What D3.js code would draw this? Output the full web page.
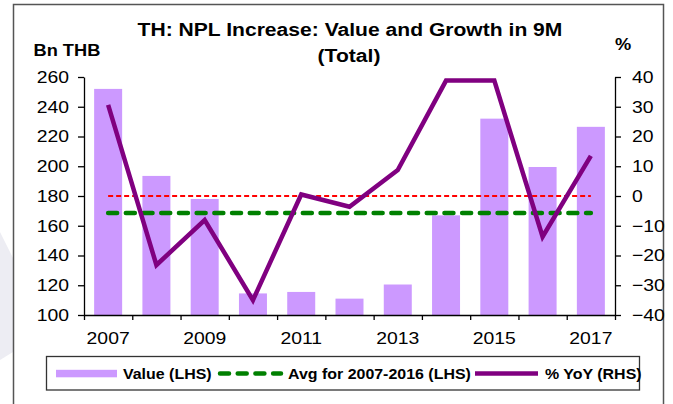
<!DOCTYPE html>
<html>
<head>
<meta charset="utf-8">
<script src="https://cdn.jsdelivr.net/npm/d3@7/dist/d3.min.js"></script>
<style>
  body { margin: 0; background: #fff; }
  text { font-family: "Liberation Sans", Arial, sans-serif; fill: #000; }
</style>
</head>
<body>
<div id="chart"></div>
<script>
////////////////////////////////////////////////////////////////////////
// Data

const years = [2007, 2008, 2009, 2010, 2011, 2012, 2013, 2014, 2015, 2016, 2017];
// NPL increase in 9M, Bn THB (left axis)
const nplValue = [252, 193.5, 178, 114.5, 115.5, 111, 120.5, 167, 232, 199.5, 226.5];
// % YoY (right axis)
const yoyGrowth = [30.6, -23.2, -8.1, -35, 0.5, -3.6, 8.7, 38.8, 38.8, -13.7, 13.5];
// average for 2007-2016 (left axis)
const avgValue = 168.6;
const zeroLine = 0;

const leftTicks = [100, 120, 140, 160, 180, 200, 220, 240, 260];
const rightTicks = [-40, -30, -20, -10, 0, 10, 20, 30, 40];
const yearLabels = [2007, 2009, 2011, 2013, 2015, 2017];

////////////////////////////////////////////////////////////////////////
// Layout

const width = 673, height = 404;
const plotLeft = 84, plotRight = 615, plotTop = 77, plotBottom = 315;
// text in the reference is a bit wider than it is tall
const SX = 1.14;

const svg = d3.select("#chart")
  .append("svg")
  .attr("width", width)
  .attr("height", height);

// stretch text horizontally around its anchor
function stretch(sel) {
  sel.each(function () {
    let t = d3.select(this);
    let x0 = +t.attr("x") || 0;
    t.attr("transform", `translate(${x0},0) scale(${SX},1) translate(${-x0},0)`);
  });
}

// faint background shape at the left edge
svg.append("path")
  .attr("d", "M0,232 L13,258 L13,352 L0,360 Z")
  .attr("fill", "#ededf3");

// frame
svg.append("rect")
  .attr("x", 13.5).attr("y", 4.5)
  .attr("width", 650).attr("height", 430)
  .attr("fill", "none")
  .attr("stroke", "#555")
  .attr("stroke-width", 1.5);

// scales
let xScale = d3.scaleBand()
  .domain(years)
  .range([plotLeft, plotRight])
  .paddingInner(0.42)
  .paddingOuter(0.21);
let idxScale = d3.scaleLinear().domain([0, years.length]).range([plotLeft, plotRight]);
let yLeft = d3.scaleLinear().domain([100, 260]).range([plotBottom, plotTop]);
let yRight = d3.scaleLinear().domain([-40, 40]).range([plotBottom, plotTop]);
let cx = d => xScale(d) + xScale.bandwidth() / 2;

// bars
svg.append("g")
  .attr("class", "bars")
  .selectAll("rect")
  .data(years)
  .enter()
  .append("rect")
  .attr("x", d => xScale(d))
  .attr("y", (d, i) => yLeft(nplValue[i]))
  .attr("width", xScale.bandwidth())
  .attr("height", (d, i) => plotBottom - yLeft(nplValue[i]))
  .attr("fill", "#cc99ff");

// red dashed zero line (RHS)
svg.append("line")
  .attr("x1", cx(years[0])).attr("x2", cx(years[years.length - 1]))
  .attr("y1", yRight(zeroLine)).attr("y2", yRight(zeroLine))
  .attr("stroke", "#ff0000")
  .attr("stroke-width", 2)
  .attr("stroke-dasharray", "5,3");

// green dashed average (LHS)
svg.append("line")
  .attr("x1", cx(years[0])).attr("x2", cx(years[years.length - 1]))
  .attr("y1", yLeft(avgValue)).attr("y2", yLeft(avgValue))
  .attr("stroke", "#008000")
  .attr("stroke-width", 4.5)
  .attr("stroke-linecap", "round")
  .attr("stroke-dasharray", "9,8.7");

// purple yoy line (RHS)
let line = d3.line()
  .x((d, i) => cx(years[i]))
  .y(d => yRight(d));
svg.append("path")
  .datum(yoyGrowth)
  .attr("d", line)
  .attr("fill", "none")
  .attr("stroke", "#800080")
  .attr("stroke-width", 4.5);

// axes
let axisLeft = d3.axisLeft(yLeft)
  .tickValues(leftTicks)
  .tickSizeInner(6).tickSizeOuter(0)
  .tickPadding(9);
let gl = svg.append("g")
  .attr("transform", `translate(${plotLeft},0)`)
  .call(axisLeft);

let axisRight = d3.axisRight(yRight)
  .tickValues(rightTicks)
  .tickSizeInner(6).tickSizeOuter(0)
  .tickPadding(11);
let gr = svg.append("g")
  .attr("transform", `translate(${plotRight},0)`)
  .call(axisRight);

let axisTicks = d3.axisBottom(idxScale)
  .tickValues(d3.range(years.length + 1))
  .tickFormat("")
  .tickSizeInner(5).tickSizeOuter(0);
let gb = svg.append("g")
  .attr("transform", `translate(0,${plotBottom})`)
  .call(axisTicks);

let axisYears = d3.axisBottom(xScale)
  .tickValues(yearLabels)
  .tickSize(0)
  .tickPadding(17);
let gy = svg.append("g")
  .attr("transform", `translate(0,${plotBottom})`)
  .call(axisYears);
gy.select(".domain").remove();

[gl, gr, gb, gy].forEach(g => {
  g.selectAll("path, line").attr("stroke", "#000").attr("stroke-width", 1.3);
  g.selectAll("text")
    .attr("font-family", "Liberation Sans, Arial, sans-serif")
    .attr("font-size", 17)
    .attr("fill", "#000");
});
stretch(svg.selectAll(".tick text"));

// titles
let titles = svg.append("g")
  .attr("font-weight", "bold");
titles.append("text")
  .attr("x", 350).attr("y", 36.5)
  .attr("text-anchor", "middle")
  .attr("font-size", 18.5)
  .text("TH: NPL Increase: Value and Growth in 9M");
titles.append("text")
  .attr("x", 349).attr("y", 62)
  .attr("text-anchor", "middle")
  .attr("font-size", 18.5)
  .text("(Total)");
titles.append("text")
  .attr("x", 33.5).attr("y", 56.5)
  .attr("font-size", 16)
  .text("Bn THB");
titles.append("text")
  .attr("x", 615).attr("y", 50)
  .attr("font-size", 16)
  .text("%");
stretch(titles.selectAll("text"));

////////////////////////////////////////////////////////////////////////
// Legend

let legend = svg.append("g").attr("class", "legend");
legend.append("rect")
  .attr("x", 46.5).attr("y", 356.5)
  .attr("width", 593).attr("height", 33.5)
  .attr("fill", "#fff")
  .attr("stroke", "#333")
  .attr("stroke-width", 1.3);

let ly = 373.6;
legend.append("rect")
  .attr("x", 56).attr("y", ly - 3.8)
  .attr("width", 61).attr("height", 7.5)
  .attr("fill", "#cc99ff");
legend.append("line")
  .attr("x1", 220).attr("x2", 281)
  .attr("y1", ly).attr("y2", ly)
  .attr("stroke", "#008000")
  .attr("stroke-width", 4.5)
  .attr("stroke-linecap", "round")
  .attr("stroke-dasharray", "9,8.7");
legend.append("line")
  .attr("x1", 475).attr("x2", 538)
  .attr("y1", ly).attr("y2", ly)
  .attr("stroke", "#800080")
  .attr("stroke-width", 4.5);

let legendItems = [
  ["Value (LHS)", 123],
  ["Avg for 2007-2016 (LHS)", 288],
  ["% YoY (RHS)", 545]
];
legend.selectAll("text")
  .data(legendItems)
  .enter()
  .append("text")
  .attr("x", d => d[1])
  .attr("y", 379.3)
  .attr("font-size", 14)
  .attr("font-weight", "bold")
  .text(d => d[0]);
stretch(legend.selectAll("text"));
</script>
</body>
</html>
